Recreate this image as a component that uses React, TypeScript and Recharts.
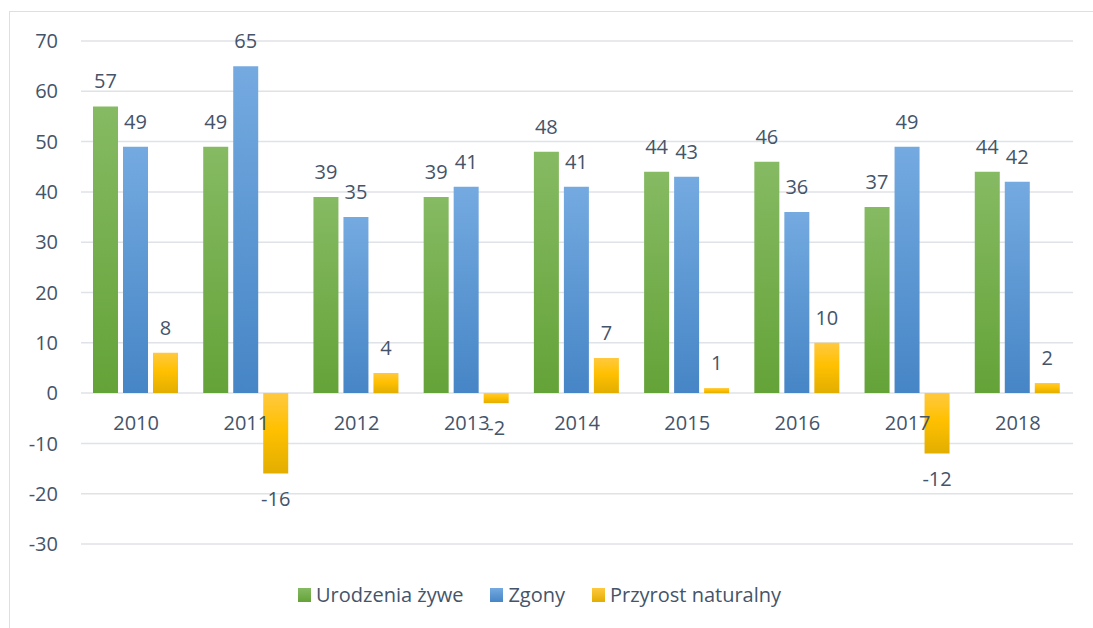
import React from "react"
import { BarChart, Bar, XAxis, YAxis, CartesianGrid, LabelList } from "recharts"

const years = ["2010", "2011", "2012", "2013", "2014", "2015", "2016", "2017", "2018"]
const urodzenia = [57, 49, 39, 39, 48, 44, 46, 37, 44]
const zgony = [49, 65, 35, 41, 41, 43, 36, 49, 42]
const przyrost = [8, -16, 4, -2, 7, 1, 10, -12, 2]
const yTicks = [-30, -20, -10, 0, 10, 20, 30, 40, 50, 60, 70]

const series = [
  { key: "urodzenia", name: "Urodzenia żywe", top: "#86ba63", bottom: "#64a338" },
  { key: "zgony", name: "Zgony", top: "#74aae0", bottom: "#4685c6" },
  { key: "przyrost", name: "Przyrost naturalny", top: "#ffc93f", mid: "#ffc000", bottom: "#e2ae00" },
]

const W = 1093
const H = 628
const X_AXIS_H = 1
const MARGIN = { top: 41, right: 20, bottom: 83, left: 0 }
const Y_MIN = -30
const Y_MAX = 70
const PLOT_H = H - MARGIN.top - MARGIN.bottom - X_AXIS_H
const ZERO_Y = MARGIN.top + (PLOT_H * (Y_MAX - 0)) / (Y_MAX - Y_MIN)

const TEXT = "#44546a"
const FONT = "'Open Sans', sans-serif"

const data = years.map((y, i) => ({
  year: y,
  urodzenia: urodzenia[i],
  zgony: zgony[i],
  przyrost: przyrost[i],
}))

// category labels sit just under the zero line, not at the bottom of the plot
function YearTick(props: any) {
  const { x, payload } = props
  return (
    <text x={x} y={ZERO_Y + 22} dy="0.72em" textAnchor="middle" fill={TEXT} fontSize={20} fontFamily={FONT}>
      {payload.value}
    </text>
  )
}

export default function App() {
  return (
    <div style={{ position: "absolute", left: 0, top: 0, width: W, height: H, overflow: "hidden", background: "#fff" }}>
      <div
        style={{
          position: "absolute",
          left: 9,
          top: 11,
          width: 1200,
          height: 800,
          border: "1.5px solid #dcdfe3",
        }}
      />
      <div style={{ position: "absolute", left: 0, top: 0 }}>
        <BarChart width={W} height={H} data={data} margin={MARGIN} barCategoryGap={12} barGap={5}>
          <defs>
            {series.map((s) => (
              <linearGradient key={s.key} id={`grad-${s.key}`} x1="0" y1="0" x2="0" y2="1">
                <stop offset="0%" stopColor={s.top} />
                {s.mid && <stop offset="45%" stopColor={s.mid} />}
                <stop offset="100%" stopColor={s.bottom} />
              </linearGradient>
            ))}
          </defs>
          <CartesianGrid vertical={false} stroke="#dfe2e6" strokeWidth={1.5} />
          <XAxis
            dataKey="year"
            height={X_AXIS_H}
            axisLine={false}
            tickLine={false}
            tick={(p: any) => <YearTick {...p} />}
            interval={0}
          />
          <YAxis
            domain={[Y_MIN, Y_MAX]}
            ticks={yTicks}
            width={81}
            axisLine={false}
            tickLine={false}
            tickSize={0}
            tickMargin={23}
            tick={{ fill: TEXT, fontSize: 20, fontFamily: FONT }}
          />
          {series.map((s) => (
            <Bar key={s.key} dataKey={s.key} name={s.name} fill={`url(#grad-${s.key})`} isAnimationActive={false}>
              <LabelList dataKey={s.key} position="top" offset={18} fill={TEXT} fontSize={20} fontFamily={FONT} />
            </Bar>
          ))}
        </BarChart>
      </div>
      <div
        style={{
          position: "absolute",
          left: 298,
          top: 581,
          display: "flex",
          alignItems: "center",
          fontFamily: FONT,
          fontSize: 20,
          color: TEXT,
          whiteSpace: "nowrap",
        }}
      >
        {series.map((s) => (
          <div key={s.key} style={{ display: "flex", alignItems: "center", marginRight: 27 }}>
            <span
              style={{
                display: "inline-block",
                width: 13,
                height: 14,
                marginRight: 5,
                background: `linear-gradient(${s.top}, ${s.bottom})`,
              }}
            />
            <span>{s.name}</span>
          </div>
        ))}
      </div>
    </div>
  )
}
